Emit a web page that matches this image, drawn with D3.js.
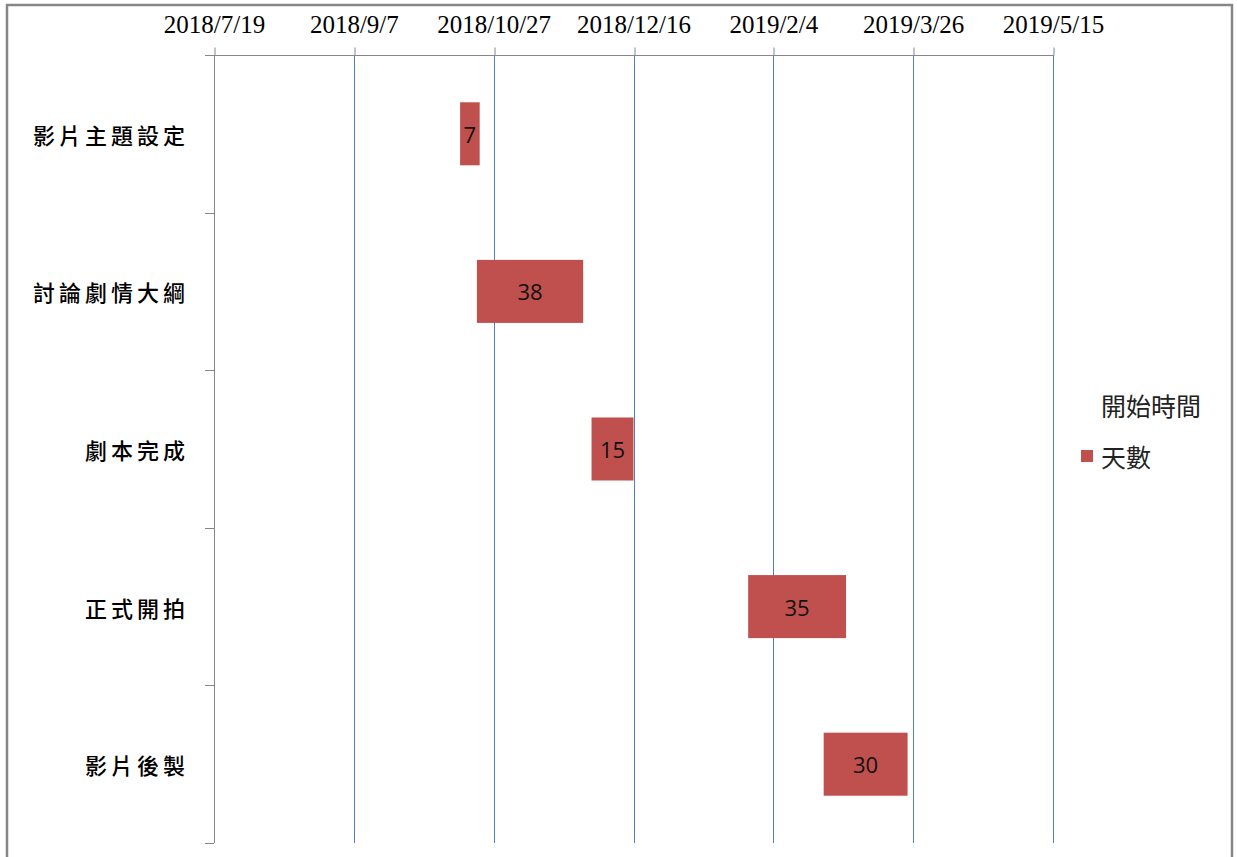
<!DOCTYPE html>
<html>
<head>
<meta charset="utf-8">
<script src="https://cdn.jsdelivr.net/npm/d3@7"></script>
<style>
    body { margin: 0; background: #fff; }
    svg { display: block; }
</style>
</head>
<body>
<div id="chart"></div>
<script>
// tasks, start dates (開始時間) and durations in days (天數)
const tasks = ["影片主題設定", "討論劇情大綱", "劇本完成", "正式開拍", "影片後製"];
const startDates = ["2018/10/15", "2018/10/21", "2018/12/1", "2019/1/26", "2019/2/22"];
const durations = [7, 38, 15, 35, 30];
const tickLabels = ["2018/7/19", "2018/9/7", "2018/10/27", "2018/12/16", "2019/2/4", "2019/3/26", "2019/5/15"];
const legendLabels = ["開始時間", "天數"];

const width = 1237, height = 857;
const plot = { l: 214, r: 1053, t: 55, b: 843 };
const barColor = "#C0504D";
const gridColor = "#4F81BD";
const axisColor = "#878787";

const parse = d3.utcParse("%Y/%m/%d");
const fmt = d3.utcFormat("%Y/%-m/%-d");
const DAY = 24 * 60 * 60 * 1000;

const ticks = tickLabels.map(parse);
const rows = tasks.map((name, i) => {
    const start = parse(startDates[i]);
    return { name, start, end: new Date(start.valueOf() + durations[i] * DAY), days: durations[i] };
});

const x = d3.scaleUtc()
    .domain([ ticks[0], ticks[ticks.length - 1] ])
    .range([ plot.l, plot.r ]);

const y = d3.scaleBand()
    .domain(tasks)
    .range([ plot.t, plot.b ])
    .paddingInner(0.6)
    .paddingOuter(0.3);

const svg = d3.select("#chart")
    .append("svg")
    .attr("width", width)
    .attr("height", height);

svg.append("rect")
    .attr("x", 7).attr("y", 5)
    .attr("width", 1225).attr("height", 860)
    .attr("fill", "#fff")
    .attr("stroke", axisColor)
    .attr("stroke-width", 2.5);

// vertical gridlines
svg.append("g")
    .selectAll("line")
    .data(ticks.slice(1))
    .join("line")
    .attr("x1", d => Math.round(x(d)) + 0.5)
    .attr("x2", d => Math.round(x(d)) + 0.5)
    .attr("y1", plot.t)
    .attr("y2", plot.b)
    .attr("stroke", gridColor)
    .attr("stroke-width", 1);

// top date axis
const xAxis = d3.axisTop(x)
    .tickValues(ticks)
    .tickFormat(fmt)
    .tickSize(8)
    .tickSizeOuter(0)
    .tickPadding(15);

const gx = svg.append("g")
    .attr("transform", `translate(0, ${plot.t + 0.5})`)
    .call(xAxis);

gx.select(".domain")
    .attr("d", `M${plot.l - 9},0H${plot.r}`)
    .attr("stroke", axisColor);
gx.selectAll(".tick line")
    .attr("stroke", axisColor)
    .attr("transform", d => `translate(${Math.round(x(d)) + 0.5 - x(d)},0)`);
gx.selectAll(".tick text")
    .attr("font-family", "'Liberation Serif', 'DejaVu Serif', serif")
    .attr("font-size", 25)
    .attr("fill", "#000");

// left category axis, ticks between categories
const bounds = d3.range(1, tasks.length + 1).map(i => plot.t + (plot.b - plot.t) * i / tasks.length);
const gy = svg.append("g");

gy.append("line")
    .attr("x1", plot.l + 0.5).attr("x2", plot.l + 0.5)
    .attr("y1", plot.t).attr("y2", plot.b)
    .attr("stroke", axisColor);

gy.selectAll(".cat-tick")
    .data(bounds)
    .join("line")
    .attr("class", "cat-tick")
    .attr("x1", plot.l - 9).attr("x2", plot.l)
    .attr("y1", d => Math.round(d) + 0.5)
    .attr("y2", d => Math.round(d) + 0.5)
    .attr("stroke", axisColor);

gy.selectAll(".cat-label")
    .data(tasks)
    .join("text")
    .attr("class", "cat-label")
    .attr("x", 189)
    .attr("y", d => y(d) + y.bandwidth() / 2)
    .attr("text-anchor", "end")
    .attr("dominant-baseline", "central")
    .attr("font-family", "'Noto Sans CJK TC', sans-serif")
    .attr("font-size", 22)
    .attr("font-weight", 500)
    .attr("letter-spacing", 4)
    .attr("fill", "#000")
    .text(d => d);

// bars
const bar = svg.append("g")
    .selectAll("g")
    .data(rows)
    .join("g");

bar.append("rect")
    .attr("x", d => x(d.start))
    .attr("y", d => y(d.name))
    .attr("width", d => x(d.end) - x(d.start))
    .attr("height", y.bandwidth())
    .attr("fill", barColor);

bar.append("text")
    .attr("x", d => (x(d.start) + x(d.end)) / 2)
    .attr("y", d => y(d.name) + y.bandwidth() / 2)
    .attr("text-anchor", "middle")
    .attr("dominant-baseline", "central")
    .attr("font-family", "'Open Sans', sans-serif")
    .attr("font-size", 22)
    .attr("fill", "#111")
    .text(d => d.days);

// legend
const legend = svg.append("g");

legend.selectAll("text")
    .data(legendLabels)
    .join("text")
    .attr("x", 1101)
    .attr("y", (d, i) => 405 + i * 51)
    .attr("dominant-baseline", "central")
    .attr("font-family", "'Noto Sans CJK TC', sans-serif")
    .attr("font-size", 25)
    .attr("fill", "#222")
    .text(d => d);

legend.append("rect")
    .attr("x", 1081).attr("y", 450)
    .attr("width", 12).attr("height", 12)
    .attr("fill", barColor);
</script>
</body>
</html>
